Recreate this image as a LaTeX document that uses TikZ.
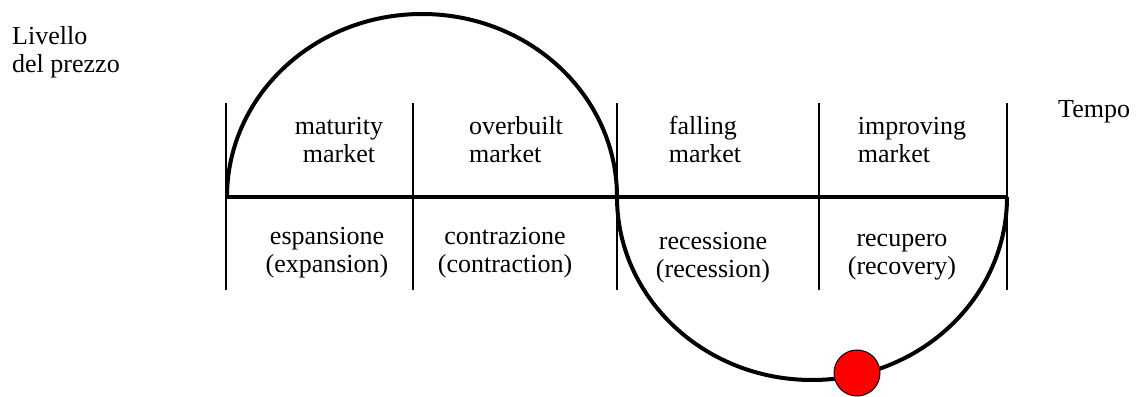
\documentclass[tikz,border=0pt]{standalone}
\usepackage{fontspec}
\setmainfont{Liberation Serif}

\begin{document}
\begin{tikzpicture}[x=1pt, y=1pt,
		every node/.style = {inner sep = 0pt, font = \fontsize{26}{28}\selectfont},
		label/.style = {align = center, anchor = base},
		labelleft/.style = {align = left, anchor = base},
		wave/.style = {line width = 4pt},
		divider/.style = {line width = 1.5pt}]
		\useasboundingbox (0,0) rectangle (1139,396);
		% axis and dividers
		\coordinate (A) at (227,199);
		\coordinate (B) at (1007,199);
		\foreach \name/\x in {d0/226, d1/413, d2/617, d3/819, d4/1007}{
			\coordinate (\name top) at (\x,293);
			\coordinate (\name bot) at (\x,106);
			\draw[divider] (\name top) -- (\name bot);
		}
		\draw[wave] (A) -- (B);
		% cycle
		\coordinate (M) at (617,199);
		\draw[wave] (A) arc[start angle = 180, end angle = 0, x radius = 195, y radius = 183];
		\draw[wave] (M) arc[start angle = 180, end angle = 360, x radius = 195, y radius = 183];
		\node[circle, minimum size = 46pt, fill = red, draw = black, line width = 1pt] (now) at (857,23) {};
		% labels (base = last line)
		\node[labelleft, anchor = base west] (price) at (12,323) {Livello\\del prezzo};
		\node[anchor = base west] (time) at (1058,278) {Tempo};
		\node[label] (maturity) at (339,233) {maturity\\market};
		\node[labelleft] (overbuilt) at (516,233) {overbuilt\\market};
		\node[labelleft] (falling) at (705,233) {falling\\market};
		\node[labelleft] (improving) at (912,233) {improving\\market};
		\node[label] (expansion) at (327,123) {espansione\\(expansion)};
		\node[label] (contraction) at (505,123) {contrazione\\(contraction)};
		\node[label] (recession) at (713,118) {recessione\\(recession)};
		\node[label] (recovery) at (902,121) {recupero\\(recovery)};
	\end{tikzpicture}
\end{document}
